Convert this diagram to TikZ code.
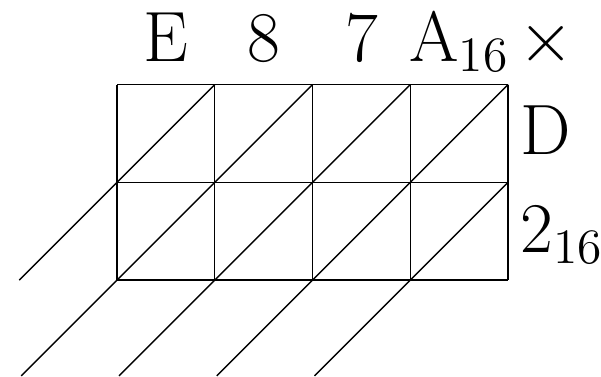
\documentclass[tikz,border=0pt]{standalone}
\begin{document}
\begin{tikzpicture}[lbl/.style={anchor=base,inner sep=0pt,font=\huge}]
\useasboundingbox (-1.197,-0.982) rectangle (4.95,2.865);
\coordinate (g0) at (0,0);
\coordinate (g1) at (4,2);
\draw (g0) grid (g1);
\coordinate (a1) at (1,2); \coordinate (b1) at (-1,0);
\coordinate (a2) at (2,2); \coordinate (b2) at (-0.98,-0.98);
\coordinate (a3) at (3,2); \coordinate (b3) at (0.02,-0.98);
\coordinate (a4) at (4,2); \coordinate (b4) at (1.02,-0.98);
\coordinate (a5) at (4,1); \coordinate (b5) at (2.02,-0.98);
\foreach \i in {1,...,5} \draw (a\i) -- (b\i);
\node[lbl] (e) at (0.5,2.24) {E};
\node[lbl] (h) at (1.5,2.24) {8};
\node[lbl] (s) at (2.5,2.24) {7};
\node[lbl] (a) at (3.5,2.24) {A$_{16}$};
\node[lbl] (x) at (4.39,2.24) {$\times$};
\node[lbl,anchor=base west] (d) at (4.12,1.28) {D};
\node[lbl,anchor=base west] (t) at (4.12,0.28) {2$_{16}$};
\end{tikzpicture}
\end{document}
